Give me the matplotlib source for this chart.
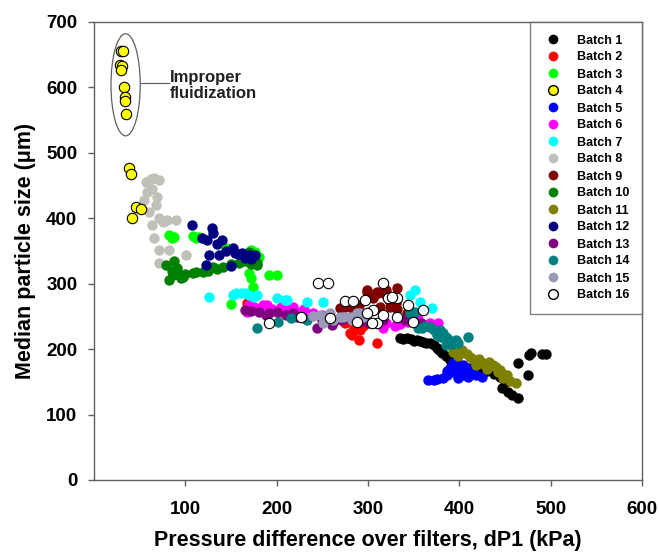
import matplotlib
matplotlib.use("Agg")
import matplotlib.pyplot as plt
from matplotlib.patches import Ellipse
from matplotlib.lines import Line2D

plt.rcParams['font.family'] = ['Liberation Sans', 'DejaVu Sans']

labels = [f"Batch {i}" for i in range(1, 17)]
colors = ["#000000", "#ff0000", "#00ff00", "#ffff00", "#0000ff", "#ff00ff",
          "#00ffff", "#c0c0b8", "#800000", "#008000", "#808000", "#000080",
          "#800080", "#008080", "#9999b8", "#ffffff"]
edges = [None, None, None, "#000000", None, None, None, None, None, None,
         None, None, None, None, None, "#000000"]

b1_x = [335, 343, 354, 360, 368, 376, 381, 390, 397, 409, 420, 434, 442, 448, 447, 453, 464, 464, 476, 475, 478, 490, 495,
        338, 347, 350, 357, 364, 372, 378, 385, 393, 402, 414, 426, 430, 438, 445, 450, 458]
b1_y = [217, 217, 214, 211, 209, 202, 194, 183, 179, 171, 164, 168, 164, 161, 141, 135, 125, 179, 191, 161, 194, 193, 193,
        216, 215, 213, 212, 210, 206, 199, 189, 181, 175, 168, 165, 166, 162, 158, 150, 130]
b2_x = [167, 178, 203, 275, 280, 285, 290, 291, 295, 310, 282, 172]
b2_y = [270, 260, 257, 240, 225, 232, 214, 229, 235, 209, 222, 264]
b3_x = [82, 88, 108, 115, 145, 172, 181, 172, 174, 192, 200, 150, 170, 85, 112, 176]
b3_y = [375, 372, 373, 372, 355, 352, 341, 309, 295, 313, 313, 269, 316, 370, 370, 348]
b4_x = [30, 32, 29, 31, 30, 33, 34, 34, 35, 38, 40, 46, 52, 42]
b4_y = [656, 655, 635, 632, 627, 600, 586, 580, 560, 477, 468, 417, 414, 401]
b5_x = [372, 382, 390, 393, 397, 403, 409, 399, 404, 425, 366, 387, 415, 376, 386, 392, 408, 412, 418]
b5_y = [153, 156, 171, 179, 168, 161, 158, 156, 176, 158, 153, 166, 163, 155, 160, 165, 163, 170, 160]
b6_x = [170, 189, 218, 168, 185, 212, 225, 316, 344, 368, 377, 330, 355, 175, 195, 205, 230, 240, 250, 320, 335, 360]
b6_y = [268, 268, 265, 257, 268, 265, 257, 232, 242, 240, 240, 236, 246, 265, 262, 265, 262, 255, 252, 240, 238, 238]
b7_x = [126, 152, 161, 178, 211, 233, 156, 170, 209, 251, 346, 357, 370, 344, 352, 165, 175, 200]
b7_y = [280, 283, 286, 283, 275, 272, 286, 283, 275, 272, 283, 272, 263, 265, 290, 286, 280, 278]
b8_x = [57, 62, 66, 71, 58, 55, 69, 71, 63, 66, 71, 82, 71, 101, 90, 60, 75, 68, 80, 64]
b8_y = [455, 460, 462, 458, 440, 428, 433, 400, 390, 370, 352, 352, 332, 344, 397, 410, 395, 420, 398, 445]
b9_x = [275, 299, 310, 320, 324, 331, 299, 311, 320, 332, 324, 313, 332, 343, 269, 284, 305, 290]
b9_y = [265, 290, 287, 283, 265, 270, 287, 286, 290, 293, 272, 265, 262, 255, 263, 260, 278, 268]
b10_x = [79, 88, 91, 82, 97, 108, 119, 130, 141, 159, 179, 170, 179, 90, 86, 85, 100, 112, 125, 135, 150, 165, 172, 95]
b10_y = [329, 334, 324, 306, 311, 316, 318, 326, 326, 332, 329, 349, 331, 318, 313, 320, 315, 318, 320, 322, 330, 335, 330, 308]
b11_x = [393, 403, 412, 420, 426, 432, 437, 442, 448, 462, 418, 408, 430, 452,
         396, 400, 415, 423, 428, 434, 440, 445, 450, 455, 398, 422]
b11_y = [196, 199, 188, 183, 179, 181, 176, 165, 156, 148, 176, 193, 170, 160,
         198, 192, 185, 180, 176, 174, 172, 168, 160, 152, 190, 185]
b12_x = [107, 129, 130, 140, 124, 152, 126, 137, 162, 170, 123, 150, 176, 154, 135, 145, 158, 165, 172, 118]
b12_y = [390, 385, 378, 367, 367, 355, 344, 344, 347, 344, 329, 327, 344, 347, 360, 350, 345, 340, 338, 370]
b13_x = [165, 181, 200, 218, 192, 222, 244, 262, 277, 316, 261, 349, 368, 172, 188, 210, 230, 250, 270, 290, 300, 340, 358]
b13_y = [260, 257, 257, 255, 255, 249, 232, 242, 248, 245, 237, 245, 234, 258, 252, 252, 248, 245, 245, 242, 240, 244, 240]
b14_x = [178, 201, 216, 233, 352, 359, 355, 368, 379, 385, 390, 396, 385, 409, 346, 362, 372, 375, 380, 388, 392, 398, 382]
b14_y = [232, 242, 248, 245, 257, 232, 232, 234, 229, 219, 211, 214, 206, 219, 255, 236, 230, 222, 218, 215, 208, 209, 225]
b15_x = [247, 258, 269, 251, 280, 291, 273, 288, 295, 262, 240, 255, 283]
b15_y = [252, 255, 249, 240, 249, 255, 249, 255, 249, 245, 250, 248, 244]
b16_x = [192, 227, 245, 256, 258, 275, 284, 288, 297, 305, 299, 310, 316, 322, 332, 332, 344, 349, 360, 326, 304, 316]
b16_y = [240, 249, 301, 301, 248, 274, 274, 242, 275, 260, 255, 240, 301, 278, 278, 249, 268, 242, 260, 280, 240, 252]

xs = [b1_x, b2_x, b3_x, b4_x, b5_x, b6_x, b7_x, b8_x, b9_x, b10_x, b11_x, b12_x, b13_x, b14_x, b15_x, b16_x]
ys = [b1_y, b2_y, b3_y, b4_y, b5_y, b6_y, b7_y, b8_y, b9_y, b10_y, b11_y, b12_y, b13_y, b14_y, b15_y, b16_y]

fig = plt.figure(figsize=(6.59, 5.52), dpi=100)
ax = fig.add_axes([94/659, 1-480/552, (642-94)/659, (480-22)/552])

for i in range(16):
    ec = edges[i] if edges[i] else colors[i]
    lw = 0.8 if edges[i] else 0
    z = 5 if i == 3 else 2 + i * 0.01
    ax.scatter(xs[i], ys[i], s=56, c=colors[i], edgecolors=ec, linewidths=lw, zorder=z)

ax.set_xlim(0, 600)
ax.set_ylim(0, 700)
ax.set_xticks([100, 200, 300, 400, 500, 600])
ax.set_yticks([0, 100, 200, 300, 400, 500, 600, 700])
for sp in ax.spines.values():
    sp.set_color("#606060")
    sp.set_linewidth(1.0)
ax.tick_params(direction='out', length=4, width=1, color="#606060", labelsize=13.5)
ax.tick_params(axis='x', pad=11)
ax.tick_params(axis='y', pad=8)
for lab in ax.get_xticklabels() + ax.get_yticklabels():
    lab.set_fontweight('bold')
ax.set_xlabel("Pressure difference over filters, dP1 (kPa)", fontsize=15.5, fontweight='bold', labelpad=9)
ax.set_ylabel("Median particle size (\u03bcm)", fontsize=15.5, fontweight='bold', labelpad=7)

# Annotation ellipse
ell = Ellipse((34.6, 604), 32, 156, fill=False, edgecolor="#606060", linewidth=0.9, zorder=6)
ax.add_patch(ell)
ax.plot([51, 82], [607, 607], color="#606060", lw=0.9, zorder=6)
ax.text(83, 603, "Improper\nfluidization", fontsize=12, fontweight='bold', va='center', ha='left',
        linespacing=1.15, color="#202020")

handles = []
for i in range(16):
    ec = edges[i] if edges[i] else colors[i]
    handles.append(Line2D([], [], linestyle='none', marker='o', markersize=7,
                          markerfacecolor=colors[i], markeredgecolor=ec,
                          markeredgewidth=1.0 if edges[i] else 0))
leg = ax.legend(handles, labels, loc='upper right', bbox_to_anchor=(1.0, 1.0), borderaxespad=0,
                frameon=True, fancybox=False, edgecolor="#606060", prop={'weight': 'bold', 'size': 9},
                labelspacing=0.40, handletextpad=1.0, borderpad=1.0, handlelength=1.8)
leg.get_frame().set_linewidth(1.0)

fig.savefig("out.png", dpi=100)
